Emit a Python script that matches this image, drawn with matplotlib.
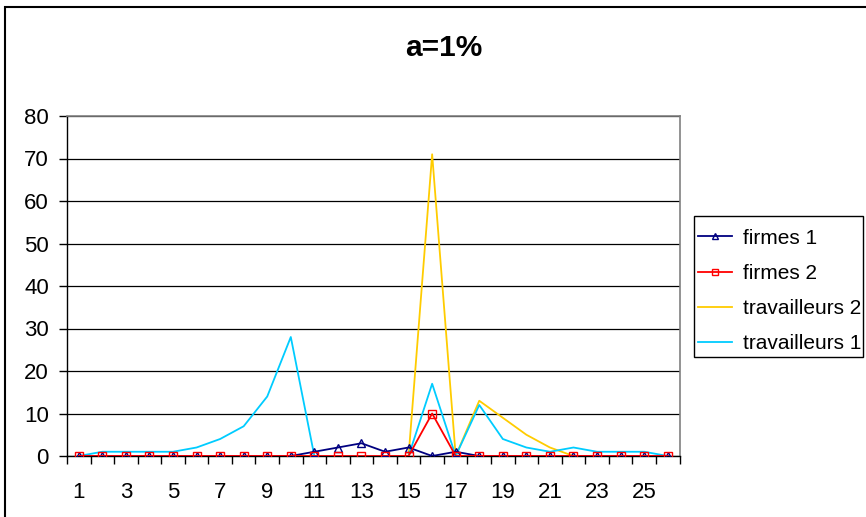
import matplotlib
matplotlib.use("Agg")
import matplotlib.pyplot as plt
from matplotlib.patches import Rectangle

categories = list(range(1, 27))
firmes_1 = [0, 0, 0, 0, 0, 0, 0, 0, 0, 0, 1, 2, 3, 1, 2, 0, 1, 0, 0, 0, 0, 0, 0, 0, 0, 0]
firmes_2 = [0, 0, 0, 0, 0, 0, 0, 0, 0, 0, 0, 0, 0, 0, 0, 10, 0, 0, 0, 0, 0, 0, 0, 0, 0, 0]
travailleurs_2 = [0, 0, 0, 0, 0, 0, 0, 0, 0, 0, 0, 0, 0, 0, 0, 71, 0, 13, 9, 5, 2, 0, 0, 0, 0, 0]
travailleurs_1 = [0, 1, 1, 1, 1, 2, 4, 7, 14, 28, 0, 0, 0, 0, 0, 17, 0, 12, 4, 2, 1, 2, 1, 1, 1, 0]
xtick_labels = [str(i) for i in range(1, 27, 2)]
yticks = list(range(0, 81, 10))

plt.rcParams['font.family'] = ['Liberation Sans', 'DejaVu Sans']

W, H = 866, 517
fig = plt.figure(figsize=(W / 100, H / 100), dpi=100)
fig.patch.set_facecolor('white')

# outer chart border
fig.add_artist(Rectangle((5 / W, 0 - 0.01), 1.0, (H - 7) / H + 0.01, transform=fig.transFigure,
                         fill=False, edgecolor='black', linewidth=1.5, zorder=0))

left, right = 67 / W, 679.5 / W
bottom, top = (H - 456) / H, (H - 116) / H
ax = fig.add_axes([left, bottom, right - left, top - bottom])

ax.plot(categories, travailleurs_2, color='#FFCC00', lw=1.3, zorder=3, label='travailleurs 2')
ax.plot(categories, travailleurs_1, color='#00CCFF', lw=1.3, zorder=4, label='travailleurs 1')
ax.plot(categories, firmes_1, color='#000080', lw=1.3, marker='^', markersize=5.5,
        markerfacecolor='none', markeredgecolor='#000080', markeredgewidth=1, zorder=5, label='firmes 1')
ax.plot(categories, firmes_2, color='#FF0000', lw=1.3, marker='s', markersize=5.5,
        markerfacecolor='none', markeredgecolor='#FF0000', markeredgewidth=1, zorder=6, label='firmes 2')

ax.set_xlim(0.5, 26.5)
ax.set_ylim(0, 80)
ax.set_yticks(yticks)
ax.set_xticks(list(range(1, 27, 2)))
ax.set_xticklabels(xtick_labels)
ax.set_xticks([i + 0.5 for i in range(0, 27)], minor=True)
ax.tick_params(axis='x', which='major', length=0, pad=19, labelsize=16)
ax.tick_params(axis='x', which='minor', length=6, width=1, direction='out', color='black')
ax.tick_params(axis='y', which='major', length=6, width=1, direction='out', pad=7, labelsize=16)

ax.yaxis.grid(True, color='black', lw=0.9)
ax.set_axisbelow(True)
for s in ['left', 'bottom']:
    ax.spines[s].set_color('black')
    ax.spines[s].set_linewidth(1)
for s in ['top', 'right']:
    ax.spines[s].set_color('#808080')
    ax.spines[s].set_linewidth(1.2)

fig.text(444 / W, 1 - 48 / H, 'a=1%', ha='center', va='center', fontsize=21.5, fontweight='bold')

# legend box
fig.add_artist(Rectangle((694 / W, 1 - 357 / H), (863 - 694) / W, (357 - 216) / H,
                         transform=fig.transFigure, fill=True, facecolor='white',
                         edgecolor='black', linewidth=1, zorder=1))

order = ['firmes 1', 'firmes 2', 'travailleurs 2', 'travailleurs 1']
handles, labels = ax.get_legend_handles_labels()
hmap = dict(zip(labels, handles))
leg = fig.legend([hmap[k] for k in order], order, loc='upper left',
                 bbox_to_anchor=(694 / W, 1 - 224.5 / H), bbox_transform=fig.transFigure,
                 fontsize=15, frameon=False, borderaxespad=0,
                 handlelength=1.63, handletextpad=0.53, labelspacing=0.78,
                 borderpad=0.2, markerscale=0.7)
leg.set_zorder(2)

fig.savefig('out.png', dpi=100)
